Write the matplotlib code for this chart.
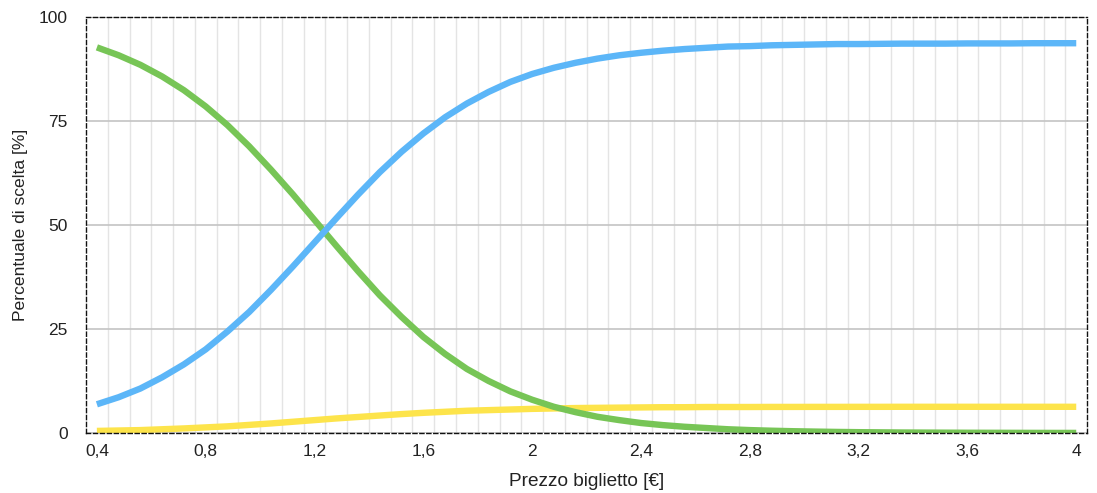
import matplotlib
matplotlib.use("Agg")
import matplotlib.pyplot as plt
from matplotlib.ticker import FixedLocator

plt.rcParams['font.family'] = ['Liberation Sans', 'DejaVu Sans']

# Price categories (€)
prezzo = [0.40, 0.48, 0.56, 0.64, 0.72, 0.80, 0.88, 0.96, 1.04, 1.12,
          1.20, 1.28, 1.36, 1.44, 1.52, 1.60, 1.68, 1.76, 1.84, 1.92,
          2.00, 2.08, 2.16, 2.24, 2.32, 2.40, 2.48, 2.56, 2.64, 2.72,
          2.80, 2.88, 2.96, 3.04, 3.12, 3.20, 3.28, 3.36, 3.44, 3.52,
          3.60, 3.68, 3.76, 3.84, 3.92, 4.00]

# Choice shares [%]
verde = [92.7, 90.8, 88.5, 85.7, 82.4, 78.5, 74.0, 68.9, 63.3, 57.4,
         51.2, 45.0, 38.9, 33.1, 27.9, 23.1, 19.0, 15.4, 12.5, 10.0,
         8.0, 6.3, 5.0, 3.9, 3.1, 2.4, 1.9, 1.5, 1.2, 0.9,
         0.7, 0.55, 0.43, 0.34, 0.26, 0.20, 0.16, 0.12, 0.10, 0.08,
         0.06, 0.05, 0.04, 0.03, 0.02, 0.02]

azzurro = [6.9, 8.6, 10.7, 13.4, 16.5, 20.1, 24.4, 29.1, 34.4, 40.0,
           45.8, 51.6, 57.3, 62.7, 67.6, 72.0, 75.9, 79.2, 82.0, 84.4,
           86.3, 87.8, 89.0, 90.0, 90.8, 91.4, 91.9, 92.3, 92.6, 92.9,
           93.0, 93.2, 93.3, 93.4, 93.5, 93.5, 93.55, 93.6, 93.6, 93.6,
           93.65, 93.65, 93.65, 93.7, 93.7, 93.7]

giallo = [0.5, 0.6, 0.7, 0.9, 1.1, 1.35, 1.6, 1.95, 2.3, 2.7,
          3.1, 3.5, 3.85, 4.2, 4.55, 4.85, 5.1, 5.35, 5.5, 5.65,
          5.8, 5.9, 6.0, 6.05, 6.1, 6.15, 6.2, 6.2, 6.25, 6.25,
          6.25, 6.27, 6.27, 6.28, 6.28, 6.29, 6.29, 6.3, 6.3, 6.3,
          6.3, 6.3, 6.3, 6.3, 6.3, 6.3]

tick_vals = [0.4, 0.8, 1.2, 1.6, 2.0, 2.4, 2.8, 3.2, 3.6, 4.0]
tick_labels = ["0,4", "0,8", "1,2", "1,6", "2", "2,4", "2,8", "3,2", "3,6", "4"]
y_ticks = [0, 25, 50, 75, 100]

fig = plt.figure(figsize=(10.97, 4.93), dpi=100)
ax = fig.add_axes([0.0784, 0.1217, 0.9126, 0.8438])

step = prezzo[1] - prezzo[0]
ax.set_xlim(prezzo[0] - step / 2, prezzo[-1] + step / 2)
ax.set_ylim(0, 100)

# vertical grid at category boundaries
bounds = [(prezzo[i] + prezzo[i + 1]) / 2 for i in range(len(prezzo) - 1)]
ax.xaxis.set_minor_locator(FixedLocator(bounds))
ax.grid(which='minor', axis='x', color='#e4e4e4', linewidth=1.0)
ax.set_yticks(y_ticks)
ax.grid(which='major', axis='y', color='#c4c4c4', linewidth=1.2)
ax.set_axisbelow(True)

lw = 4.6
ax.plot(prezzo, giallo, color='#fde44b', linewidth=lw, solid_capstyle='butt')
ax.plot(prezzo, verde, color='#77c556', linewidth=lw, solid_capstyle='butt')
ax.plot(prezzo, azzurro, color='#5cb6f8', linewidth=lw, solid_capstyle='butt')

ax.set_xticks(tick_vals)
ax.set_xticklabels(tick_labels)
ax.tick_params(axis='both', which='both', length=0, labelsize=12.5, colors='#222222')
ax.tick_params(axis='x', pad=8)
ax.tick_params(axis='y', pad=13)

for s in ax.spines.values():
    s.set_linestyle((0, (3, 2)))
    s.set_linewidth(1.0)
    s.set_color('#111111')

ax.set_xlabel("Prezzo biglietto [€]", fontsize=13.7, labelpad=10, color='#222222')
ax.set_ylabel("Percentuale di scelta [%]", fontsize=12.6, labelpad=8, color='#222222')

fig.savefig("out.png", dpi=100)
